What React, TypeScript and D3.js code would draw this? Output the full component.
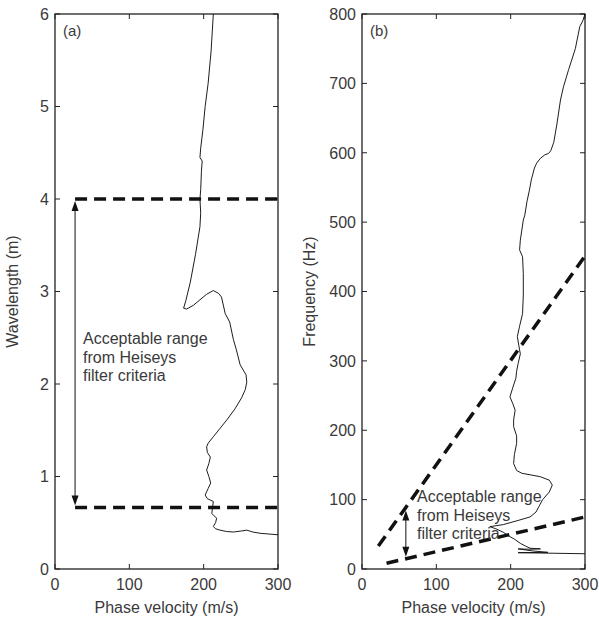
import React from "react";
import * as d3 from "d3";

// ---------- data ----------
// Panel (a): wavelength (m) vs phase velocity (m/s)
const aVelocity = [213, 210, 206, 202, 199, 196, 195, 198, 197, 196, 195, 196, 195, 189, 182, 176, 173, 177, 186, 195, 204, 213, 220, 224, 229, 235, 240, 244, 249, 254, 257, 258, 256, 251, 242, 231, 222, 213, 206, 204, 205, 209, 207, 204, 207, 209.5, 206, 202, 205, 213, 212, 211, 214, 217.5, 216, 213, 216, 222, 231, 240, 250, 258, 266, 276, 288, 300];
const aWavelength = [6.0, 5.6, 5.25, 5.0, 4.75, 4.55, 4.45, 4.41, 4.3, 4.1, 4.0, 3.85, 3.7, 3.4, 3.1, 2.9, 2.82, 2.81, 2.85, 2.91, 2.97, 3.01, 2.98, 2.94, 2.76, 2.67, 2.48, 2.37, 2.21, 2.14, 2.1, 2.02, 1.94, 1.85, 1.73, 1.61, 1.52, 1.43, 1.36, 1.32, 1.26, 1.21, 1.14, 1.07, 1.0, 0.93, 0.87, 0.8, 0.76, 0.73, 0.67, 0.6, 0.575, 0.55, 0.5, 0.46, 0.435, 0.42, 0.405, 0.4, 0.41, 0.42, 0.4, 0.386, 0.378, 0.37];

// Panel (b): frequency (Hz) vs phase velocity (m/s)
const bVelocity = [300, 297, 293, 287, 278, 271, 267, 262, 258, 254, 251, 246, 240, 235, 232, 228, 225, 222, 219, 217, 213, 212, 216, 217, 217, 216, 212, 209, 211, 213, 210, 208, 207, 203, 199, 203, 206, 204, 204, 208, 208, 205, 204, 208, 215, 240, 252, 256, 252, 243, 238, 234, 226, 210, 190, 172, 180, 190, 197, 205, 213, 220, 226, 240, 225, 210, 230, 250, 210, 240, 300];
const bFrequency = [800, 790, 782, 750, 720, 695, 676, 640, 615, 603, 599, 597, 592, 585, 578, 562, 545, 530, 510, 503, 474, 460, 450, 426, 395, 368, 350, 335, 322, 310, 296, 285, 275, 262, 248, 238, 229, 215, 205, 192, 181, 165, 152, 142, 138, 133, 128, 121, 111, 100, 90, 82, 75, 70, 64, 61, 58, 53, 48, 43, 37, 33, 30, 29, 28.5, 29, 26, 24, 23.5, 23, 22];

// Heisey filter criteria (wavelength limits, m)
const lambdaMin = 0.665;
const lambdaMax = 4;
const aDashStart = 27; // m/s
const bUpperStart = 22; // m/s
const bLowerStart = 33; // m/s
const arrowAVel = 27;
const arrowBVel = 59;

const xTicks = [0, 100, 200, 300];
const aYTicks = [0, 1, 2, 3, 4, 5, 6];
const bYTicks = [0, 100, 200, 300, 400, 500, 600, 700, 800];
const noteLines = ["Acceptable range", "from Heiseys", "filter criteria"];

// ---------- layout ----------
const W = 599;
const H = 620;
const top = 14;
const bottom = 569;
const aLeft = 55;
const aRight = 278;
const bLeft = 362;
const bRight = 585;
const FONT = "'Liberation Sans', Arial, Helvetica, sans-serif";
const TXT = "#3a3a3a";
const AX = "#222";

function Frame({ x, y, xt, yt, label, ylabel, tag, ylOff }: any) {
  const [x0, x1] = x.range();
  const [y0, y1] = y.range();
  const tl = 5;
  return (
    <g>
      <rect x={x0} y={y1} width={x1 - x0} height={y0 - y1} fill="none" stroke={AX} strokeWidth={1.3} />
      {xt.map((t: number) => (
        <g key={"x" + t}>
          <line x1={x(t)} x2={x(t)} y1={y0} y2={y0 - tl} stroke={AX} strokeWidth={1} />
          <line x1={x(t)} x2={x(t)} y1={y1} y2={y1 + tl} stroke={AX} strokeWidth={1} />
          <text x={x(t)} y={y0 + 21} textAnchor="middle" fontSize={16} fill={TXT}>{t}</text>
        </g>
      ))}
      {yt.map((t: number) => (
        <g key={"y" + t}>
          <line x1={x0} x2={x0 + tl} y1={y(t)} y2={y(t)} stroke={AX} strokeWidth={1} />
          <line x1={x1} x2={x1 - tl} y1={y(t)} y2={y(t)} stroke={AX} strokeWidth={1} />
          <text x={x0 - 6} y={y(t)} dy="0.36em" textAnchor="end" fontSize={16} fill={TXT}>{t}</text>
        </g>
      ))}
      <text x={(x0 + x1) / 2} y={y0 + 44} textAnchor="middle" fontSize={16} fill={TXT}>{label}</text>
      <text transform={`translate(${x0 - ylOff},${(y0 + y1) / 2}) rotate(-90)`} textAnchor="middle" fontSize={16} fill={TXT}>{ylabel}</text>
      <text x={x0 + 8} y={y1 + 22} fontSize={15} fill={TXT}>{tag}</text>
    </g>
  );
}

function Arrow({ x, y1, y2 }: any) {
  const hl = 10;
  const hw = 3.5;
  return (
    <g>
      <line x1={x} x2={x} y1={y1 + hl - 1} y2={y2 - hl + 1} stroke="#111" strokeWidth={1} />
      <path d={`M${x},${y1} L${x - hw},${y1 + hl} L${x + hw},${y1 + hl} Z`} fill="#111" />
      <path d={`M${x},${y2} L${x - hw},${y2 - hl} L${x + hw},${y2 - hl} Z`} fill="#111" />
    </g>
  );
}

export default function App() {
  const xa = d3.scaleLinear().domain([0, 300]).range([aLeft, aRight]);
  const ya = d3.scaleLinear().domain([0, 6]).range([bottom, top]);
  const xb = d3.scaleLinear().domain([0, 300]).range([bLeft, bRight]);
  const yb = d3.scaleLinear().domain([0, 800]).range([bottom, top]);

  const lineA = d3.line<number>().x((d, i) => xa(aVelocity[i])).y((d) => ya(d)).curve(d3.curveLinear);
  const lineB = d3.line<number>().x((d, i) => xb(bVelocity[i])).y((d) => yb(d)).curve(d3.curveLinear);

  const dash = "12 7";
  const dashW = 3.5;

  return (
    <svg width={W} height={H} style={{ position: "absolute", left: 0, top: 0, fontFamily: FONT }}>
      <rect width={W} height={H} fill="#fff" />
      {/* Panel (a) */}
      <Frame x={xa} y={ya} xt={xTicks} yt={aYTicks} label="Phase velocity (m/s)" ylabel="Wavelength (m)" tag="(a)" ylOff={37} />
      <line x1={xa(aDashStart)} x2={xa(300)} y1={ya(lambdaMax)} y2={ya(lambdaMax)} stroke="#111" strokeWidth={dashW} strokeDasharray={dash} />
      <line x1={xa(aDashStart)} x2={xa(300)} y1={ya(lambdaMin)} y2={ya(lambdaMin)} stroke="#111" strokeWidth={dashW} strokeDasharray={dash} />
      <path d={lineA(aWavelength) || ""} fill="none" stroke="#111" strokeWidth={0.95} />
      <Arrow x={xa(arrowAVel)} y1={ya(lambdaMax) + 2} y2={ya(lambdaMin) - 2} />
      {noteLines.map((t, i) => (
        <text key={"na" + i} x={83} y={ya(2.43) + i * 18.3} fontSize={16} fill={TXT}>{t}</text>
      ))}

      {/* Panel (b) */}
      <Frame x={xb} y={yb} xt={xTicks} yt={bYTicks} label="Phase velocity (m/s)" ylabel="Frequency (Hz)" tag="(b)" ylOff={47} />
      <line x1={xb(bUpperStart)} y1={yb(bUpperStart / lambdaMin)} x2={xb(300)} y2={yb(300 / lambdaMin)} stroke="#111" strokeWidth={dashW} strokeDasharray={dash} />
      <line x1={xb(bLowerStart)} y1={yb(bLowerStart / lambdaMax)} x2={xb(300)} y2={yb(300 / lambdaMax)} stroke="#111" strokeWidth={dashW} strokeDasharray={dash} />
      <path d={lineB(bFrequency) || ""} fill="none" stroke="#111" strokeWidth={0.95} />
      <Arrow x={xb(arrowBVel)} y1={yb(arrowBVel / lambdaMin) + 3} y2={yb(arrowBVel / lambdaMax) - 2} />
      {noteLines.map((t, i) => (
        <text key={"nb" + i} x={xb(74)} y={yb(96) + i * 18.3} fontSize={16} fill={TXT}>{t}</text>
      ))}
    </svg>
  );
}
